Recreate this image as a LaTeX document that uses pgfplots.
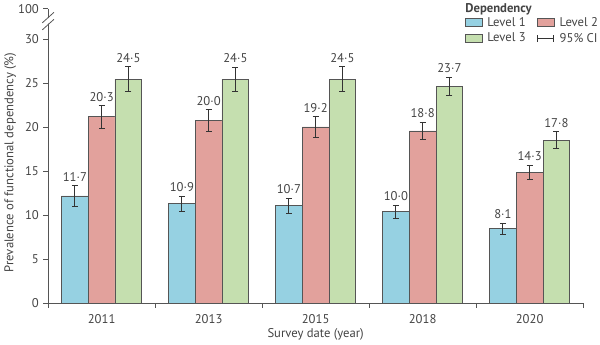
\documentclass[border=0pt]{standalone}
\usepackage{pgfplots}
\pgfplotsset{compat=1.18}
\usepackage{pgfplotstable}
\usepackage{fontspec}
\setmainfont{PT Sans}
\definecolor{lone}{HTML}{96D1E2}
\definecolor{ltwo}{HTML}{E2A19C}
\definecolor{lthree}{HTML}{C5DFAF}
\definecolor{edge}{HTML}{555555}
\definecolor{txt}{HTML}{444444}

\pgfplotstableread{
x y err lab
0 12.2 1.15 11·7
1 11.3 0.90 10·9
2 11.1 0.85 10·7
3 10.4 0.75 10·0
4 8.45 0.65 8·1
}\levelone
\pgfplotstableread{
x y err lab
0 21.2 1.30 20·3
1 20.8 1.20 20·0
2 20.05 1.15 19·2
3 19.6 1.00 18·8
4 14.9 0.80 14·3
}\leveltwo
\pgfplotstableread{
x y err lab
0 25.5 1.40 24·5
1 25.5 1.35 24·5
2 25.5 1.40 24·5
3 24.7 1.05 23·7
4 18.55 0.95 17·8
}\levelthree

\def\fs{\fontsize{13}{15}\selectfont}

\begin{document}
\fs
\begin{tikzpicture}
\begin{axis}[
  scale only axis,
  width=549pt, height=302pt,
  xmin=-0.5, xmax=4.5,
  ymin=0, ymax=33.5,
  axis x line*=bottom, axis y line*=left,
  axis line style={edge, line width=0.8pt},
  every tick/.style={edge, line width=0.8pt},
  tick align=outside,
  xtick={0,1,2,3,4},
  xticklabels={2011,2013,2015,2018,2020},
  major x tick style={draw=none},
  minor xtick={-0.5,0.5,1.5,2.5,3.5,4.5},
  minor tick length=5pt,
  major tick length=5pt,
  ytick={0,5,10,15,20,25,30,33.5},
  yticklabels={0,5,10,15,20,25,30,100},
  /pgf/number format/assume math mode=true,
  ticklabel style={font=\fs, text=txt},
  xticklabel style={yshift=-2pt},
  xlabel={Survey date (year)},
  ylabel={Prevalence of functional dependency (\%)},
  xlabel style={font=\fs, text=txt, at={(axis description cs:0.5,0)}, anchor=center, yshift=-32pt},
  ylabel style={font=\fs, text=txt, at={(axis description cs:-0.071,0.478)}, anchor=center},
  legend style={at={(0.7796,0.978)}, anchor=north west, draw=none, fill=none,
    inner sep=0pt, outer sep=0pt,
    font=\fs, text=txt,
    /tikz/every odd column/.append style={column sep=3pt},
    /tikz/every even column/.append style={column sep=10pt},
    row sep=1pt},
  legend columns=2,
  legend cell align=left,
  clip=false,
]
\addplot[ybar, bar width=0.25, bar shift=0pt, fill=lone, draw=edge, line width=0.8pt,
  legend image code/.code={\draw[fill=lone, draw=edge, line width=0.8pt] (0pt,-4pt) rectangle (17pt,4pt);},
  error bars/.cd, y dir=both, y explicit,
  error bar style={black!80, line width=0.8pt}, error mark options={rotate=90, mark size=3pt, black!80, line width=0.8pt}]
  table[x expr=\thisrow{x}-0.25, y=y, y error=err] {\levelone};
\addlegendentry{Level 1}
\addplot[ybar, bar width=0.25, bar shift=0pt, fill=ltwo, draw=edge, line width=0.8pt,
  legend image code/.code={\draw[fill=ltwo, draw=edge, line width=0.8pt] (0pt,-4pt) rectangle (17pt,4pt);},
  error bars/.cd, y dir=both, y explicit,
  error bar style={black!80, line width=0.8pt}, error mark options={rotate=90, mark size=3pt, black!80, line width=0.8pt}]
  table[x expr=\thisrow{x}, y=y, y error=err] {\leveltwo};
\addlegendentry{Level 2}
\addplot[ybar, bar width=0.25, bar shift=0pt, fill=lthree, draw=edge, line width=0.8pt,
  legend image code/.code={\draw[fill=lthree, draw=edge, line width=0.8pt] (0pt,-4pt) rectangle (17pt,4pt);},
  error bars/.cd, y dir=both, y explicit,
  error bar style={black!80, line width=0.8pt}, error mark options={rotate=90, mark size=3pt, black!80, line width=0.8pt}]
  table[x expr=\thisrow{x}+0.25, y=y, y error=err] {\levelthree};
\addlegendentry{Level 3}
\addlegendimage{legend image code/.code={
  \draw[black!80, line width=0.8pt] (0pt,0pt) -- (16pt,0pt);
  \draw[black!80, line width=0.8pt] (0pt,-3.5pt) -- (0pt,3.5pt);
  \draw[black!80, line width=0.8pt] (16pt,-3.5pt) -- (16pt,3.5pt);}}
\addlegendentry{95\% CI}

% value labels above the error bars
\addplot[draw=none, mark=none, forget plot, nodes near coords, point meta=explicit symbolic,
  every node near coord/.style={anchor=south, inner sep=0pt, yshift=4pt, text=txt, font=\fs}]
  table[x expr=\thisrow{x}-0.25, y expr=\thisrow{y}+\thisrow{err}, meta=lab] {\levelone};
\addplot[draw=none, mark=none, forget plot, nodes near coords, point meta=explicit symbolic,
  every node near coord/.style={anchor=south, inner sep=0pt, yshift=4pt, text=txt, font=\fs}]
  table[x expr=\thisrow{x}, y expr=\thisrow{y}+\thisrow{err}, meta=lab] {\leveltwo};
\addplot[draw=none, mark=none, forget plot, nodes near coords, point meta=explicit symbolic,
  every node near coord/.style={anchor=south, inner sep=0pt, yshift=4pt, text=txt, font=\fs}]
  table[x expr=\thisrow{x}+0.25, y expr=\thisrow{y}+\thisrow{err}, meta=lab] {\levelthree};

% axis break
\fill[white] ([xshift=-6pt,yshift=-1pt]axis cs:-0.5,31.3) -- ([xshift=6pt,yshift=-1pt]axis cs:-0.5,32.5)
  -- ([xshift=6pt,yshift=1pt]axis cs:-0.5,32.9) -- ([xshift=-6pt,yshift=1pt]axis cs:-0.5,31.7) -- cycle;
\draw[edge, line width=0.8pt] ([xshift=-6pt]axis cs:-0.5,31.1) -- ([xshift=6pt]axis cs:-0.5,32.3);
\draw[edge, line width=0.8pt] ([xshift=-6pt]axis cs:-0.5,31.9) -- ([xshift=6pt]axis cs:-0.5,33.1);

% legend title
\node[anchor=west, inner sep=0pt, font=\bfseries\fs, text=txt] at (axis description cs:0.7796,1.0) {Dependency};
\end{axis}
\path ([xshift=-49pt,yshift=-41pt]current axis.south west) rectangle ([xshift=2pt,yshift=7pt]current axis.north east);
\end{tikzpicture}
\end{document}
